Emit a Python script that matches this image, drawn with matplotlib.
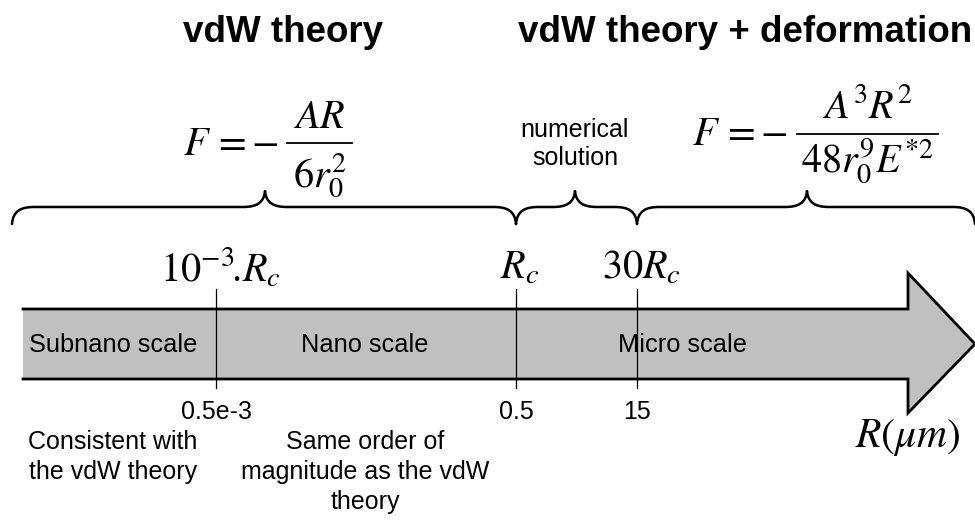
import matplotlib.pyplot as plt
from matplotlib.path import Path
from matplotlib.patches import PathPatch, Polygon

plt.rcParams['mathtext.fontset'] = 'stix'
plt.rcParams['font.family'] = ['Liberation Sans', 'DejaVu Sans']

# schematic R axis (units = figure pixels, y pointing down)
axis_start, axis_end = 23, 975
boundaries = [216, 516, 637]
boundary_symbols = [r'$10^{-3}\!.\!R_c$', r'$R_c$', r'$30R_c$']
boundary_values = ['0.5e-3', '0.5', '15']
scale_names = ['Subnano scale', 'Nano scale', 'Micro scale']
scale_centers = [113, 365, 683]

brace_edges = [12, 516, 637, 975]
brace_tips = [265, 575, 807]

# force laws written over the braces: (numerator, denominator)
vdw_law = (r'$AR$', r'$6r_0^2$')
deform_law = (r'$A^3R^2$', r'$48r_0^9E^{*2}$')
middle_label = 'numerical\nsolution'

theory_titles = ['vdW theory', 'vdW theory + deformation']
title_x = [283, 745]

notes = ['Consistent with\nthe vdW theory',
         'Same order of\nmagnitude as the vdW\ntheory']
note_x = [113, 365]

fig = plt.figure(figsize=(9.75, 5.22), dpi=100)
ax = fig.add_axes([0, 0, 1, 1])
ax.set_xlim(0, 975)
ax.set_ylim(522, 0)
ax.axis('off')


def brace(x0, x1, xc, y_end=224, y_mid=207, y_tip=191, r=22):
    verts = [
        (x0, y_end),
        (x0 + 1, y_mid + 4), (x0 + r * 0.4, y_mid), (x0 + r, y_mid),
        (xc - r, y_mid),
        (xc - r * 0.4, y_mid), (xc - 1, y_mid - 4), (xc, y_tip),
        (xc + 1, y_mid - 4), (xc + r * 0.4, y_mid), (xc + r, y_mid),
        (x1 - r, y_mid),
        (x1 - r * 0.4, y_mid), (x1 - 1, y_mid + 4), (x1, y_end),
    ]
    codes = [Path.MOVETO,
             Path.CURVE4, Path.CURVE4, Path.CURVE4,
             Path.LINETO,
             Path.CURVE4, Path.CURVE4, Path.CURVE4,
             Path.CURVE4, Path.CURVE4, Path.CURVE4,
             Path.LINETO,
             Path.CURVE4, Path.CURVE4, Path.CURVE4]
    return PathPatch(Path(verts, codes), fill=False, lw=1.8, ec='black',
                     capstyle='round', joinstyle='round')


def force_law(x_f, y_f, bar_x0, bar_x1, bar_y, num, den, num_y, den_y):
    ax.text(x_f, y_f, r'$F\,=-$', fontsize=29, ha='left', va='baseline')
    ax.plot([bar_x0, bar_x1], [bar_y, bar_y], color='black', lw=1.3)
    xm = (bar_x0 + bar_x1) / 2
    ax.text(xm, num_y, num, fontsize=29, ha='center', va='baseline')
    ax.text(xm, den_y, den, fontsize=29, ha='center', va='baseline')


for i, xc in enumerate(brace_tips):
    ax.add_patch(brace(brace_edges[i], brace_edges[i + 1], xc))

force_law(183, 155, 287, 352, 143, *vdw_law, 128, 187)
force_law(692, 145, 797, 938, 134, *deform_law, 118, 172)
ax.text(brace_tips[1], 144, middle_label, fontsize=18, ha='center',
        va='center', linespacing=1.25)

# big arrow
body_top, body_bot = 309, 379
head_x, head_top, head_bot = 908, 273, 413
arrow_pts = [(axis_start, body_top), (head_x, body_top), (head_x, head_top),
             (axis_end, (body_top + body_bot) / 2), (head_x, head_bot),
             (head_x, body_bot), (axis_start, body_bot)]
ax.add_patch(Polygon(arrow_pts, closed=True, fc='#c0c0c0', ec='none'))
ax.plot([p[0] for p in arrow_pts], [p[1] for p in arrow_pts],
        color='black', lw=2, solid_joinstyle='miter')

for x in boundaries:
    ax.plot([x, x], [289, 388], color='black', lw=0.9)

for x, s in zip(boundaries, boundary_symbols):
    ax.text(x + 4, 268, s, fontsize=29, ha='center', va='center')

for x, s in zip(boundaries, boundary_values):
    ax.text(x, 412, s, fontsize=18, ha='center', va='center')

for x, s in zip(scale_centers, scale_names):
    ax.text(x, 345, s, fontsize=18.3, ha='center', va='center')

for x, s in zip(title_x, theory_titles):
    ax.text(x, 32, s, fontsize=26.5, fontweight='bold', ha='center',
            va='center')

for x, s in zip(note_x, notes):
    ax.text(x, 430, s, fontsize=18, ha='center', va='top', linespacing=1.32)

ax.text(908, 438, r'$R(\mu m)$', fontsize=30, ha='center', va='center')

fig.savefig('out.png', dpi=100)
